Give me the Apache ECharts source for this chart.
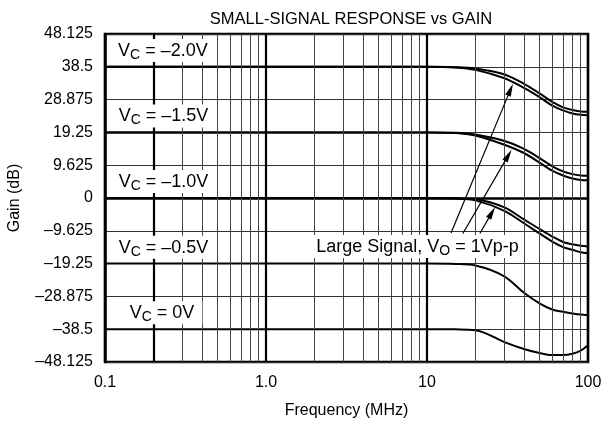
<!DOCTYPE html>
<html><head><meta charset="utf-8">
<script src="https://cdn.jsdelivr.net/npm/echarts@6/dist/echarts.min.js"></script>
<style>html,body{margin:0;padding:0;background:#fff}#c{width:604px;height:422px}</style>
</head><body><div id="c"></div>
<script>
// ---- data ----
const freqs = [0.1, 10, 15, 20, 30, 40, 50, 60, 70, 80, 90, 100];
const vc20Small = [38.5, 38.5, 38.4, 38.0, 36.3, 33.5, 30.7, 28.2, 26.6, 25.8, 25.4, 25.3];
const vc20Large = [38.5, 38.5, 38.3, 37.6, 35.2, 32.3, 29.6, 27.1, 25.7, 24.8, 24.4, 24.3];
const vc15Small = [19.25, 19.25, 19.15, 18.65, 16.8, 14.4, 11.7, 9.3, 7.8, 7.0, 6.6, 6.5];
const vc15Large = [19.25, 19.25, 19.1, 18.35, 15.7, 13.2, 10.4, 8.0, 6.6, 5.7, 5.3, 5.2];
const vc10Small = [0, 0, -0.1, -0.4, -2.7, -6.3, -9.1, -11.3, -12.9, -13.6, -14.0, -14.2];
const vc10Large = [0, 0, -0.15, -0.7, -3.7, -7.4, -10.4, -12.8, -14.4, -15.2, -15.9, -16.2];
const vc05 = [-19.25, -19.25, -19.35, -19.8, -22.9, -27.8, -30.9, -32.7, -33.4, -33.9, -34.2, -34.4];
const vc00 = [-38.5, -38.5, -38.55, -38.8, -42.2, -44.3, -45.5, -46.1, -46.1, -45.7, -44.8, -43.2];
const curves = [vc20Small, vc20Large, vc15Small, vc15Large, vc10Small, vc10Large, vc05, vc00];

const xTickLabels = {'-1': '0.1', '0': '1.0', '1': '10', '2': '100'};
const yMin = -48.125, yMax = 48.125, yStep = 9.625;
const minorFreqs = [0.3, 0.4, 0.5, 0.6, 0.7, 0.8, 0.9, 2, 3, 4, 5, 6, 7, 8, 9, 20, 30, 40, 50, 60, 70, 80, 90];
const boldFreqs = [0.2];

// arrows: [from(freq, dB), to(freq, dB)]
const arrows = [
  [[14.1, -10.3], [33.0, 31.8]],
  [[16.7, -10.4], [32.0, 12.5]],
  [[21.3, -10.4], [25.3, -4.3]]
];
// annotation labels: [prefix, subscript, suffix]
const labelTexts = [
  ['V', 'C', ' = \u20132.0V'],
  ['V', 'C', ' = \u20131.5V'],
  ['V', 'C', ' = \u20131.0V'],
  ['V', 'C', ' = \u20130.5V'],
  ['V', 'C', ' = 0V'],
  ['Large Signal, V', 'O', ' = 1Vp-p']
];
const labelAnchors = [[0.229, 43.3125], [0.231, 24.0625], [0.231, 4.8125], [0.231, -14.4375], [0.226, -33.6875], [8.73, -14.2]];

const FONT = 'Liberation Sans, Arial, Helvetica, sans-serif';
const chart = echarts.init(document.getElementById('c'), null, {renderer: 'canvas'});

function fmtY(v) {
  const r = parseFloat(v.toFixed(3));
  if (r < 0) return '\u2013' + Math.abs(r);
  return String(r);
}

const series = curves.map(arr => ({
  type: 'line',
  data: freqs.map((f, i) => [f, arr[i]]),
  smooth: 0.35,
  showSymbol: false,
  symbol: 'none',
  silent: true,
  z: 3,
  lineStyle: {color: '#000', width: 2}
}));

series.push({
  type: 'line', data: [[0.1, 0]], showSymbol: false, symbol: 'none', silent: true, z: 1,
  lineStyle: {opacity: 0},
  markLine: {
    silent: true, symbol: 'none', animation: false,
    label: {show: false},
    data: minorFreqs.map(f => ({xAxis: f, lineStyle: {color: '#444', width: 1, type: 'solid'}}))
      .concat(boldFreqs.map(f => ({xAxis: f, lineStyle: {color: '#000', width: 2.2, type: 'solid'}})))
  }
});

series.push({
  type: 'line', data: [[0.1, 0]], showSymbol: false, symbol: 'none', silent: true, z: 5,
  lineStyle: {opacity: 0},
  markLine: {
    silent: true, animation: false,
    symbol: ['none', 'triangle'], symbolSize: [6, 13],
    label: {show: false},
    lineStyle: {color: '#000', width: 1.2, type: 'solid'},
    data: arrows.map(a => [{coord: a[0]}, {coord: a[1]}])
  }
});

chart.setOption({
  animation: false,
  backgroundColor: '#fff',
  title: {
    text: 'SMALL-SIGNAL RESPONSE vs GAIN',
    left: 346, top: 6, textAlign: 'center',
    textStyle: {fontFamily: FONT, fontSize: 16.5, fontWeight: 'normal', color: '#000'}
  },
  grid: {left: 105, right: 16, top: 34, bottom: 60, outerBoundsMode: 'none', containLabel: false,
    show: true, borderColor: '#000', borderWidth: 2.5, backgroundColor: 'transparent'},
  xAxis: {
    type: 'log', logBase: 10, min: 0.1, max: 100,
    name: 'Frequency (MHz)', nameLocation: 'middle', nameGap: 41,
    nameTextStyle: {fontFamily: FONT, fontSize: 16, color: '#000'},
    axisLine: {show: true, lineStyle: {color: '#000', width: 2.5}},
    axisTick: {show: false},
    axisLabel: {
      fontFamily: FONT, fontSize: 16, color: '#000', margin: 13, showMinLabel: true, showMaxLabel: true,
      formatter: v => xTickLabels[String(Math.round(Math.log10(v)))]
    },
    splitLine: {show: true, lineStyle: {color: '#000', width: 2.2}}
  },
  yAxis: {
    type: 'value', min: yMin, max: yMax, interval: yStep,
    name: 'Gain (dB)', nameLocation: 'middle', nameGap: 82,
    nameTextStyle: {fontFamily: FONT, fontSize: 16, color: '#000'},
    axisLine: {show: true, lineStyle: {color: '#000', width: 2.5}},
    axisTick: {show: false},
    axisLabel: {fontFamily: FONT, fontSize: 16, color: '#000', margin: 12, formatter: fmtY, showMinLabel: true, showMaxLabel: true},
    splitLine: {show: true, lineStyle: {color: '#333', width: 1}}
  },
  series: series
});

const rich = {
  m: {fontFamily: FONT, fontSize: 18, color: '#000', lineHeight: 20, verticalAlign: 'top'},
  s: {fontFamily: FONT, fontSize: 14, color: '#000', lineHeight: 20, padding: [6, 0, 0, 0], verticalAlign: 'top'}
};
const graphics = labelTexts.map((t, i) => {
  const p = chart.convertToPixel({gridIndex: 0}, labelAnchors[i]);
  return {
    type: 'text', x: p[0], y: p[1], z: 100, silent: true,
    style: {
      text: '{m|' + t[0] + '}{s|' + t[1] + '}{m|' + t[2] + '}',
      rich: rich,
      align: 'center', verticalAlign: 'middle',
      backgroundColor: '#fff',
      padding: i === 5 ? [3, 4, 0, 4] : [3, 8, 0, 8]
    }
  };
});
chart.setOption({graphic: graphics});
</script></body></html>
